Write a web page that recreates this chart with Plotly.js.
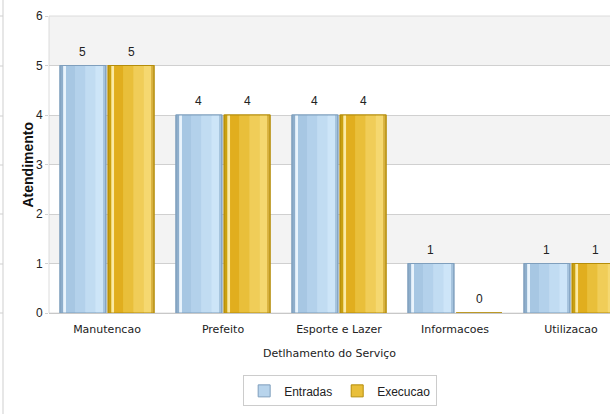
<!DOCTYPE html>
<html>
<head>
<meta charset="utf-8">
<script src="https://cdn.plot.ly/plotly-3.0.1.min.js"></script>
<style>
  html, body { margin: 0; padding: 0; background: #fff; }
  #chart { width: 610px; height: 414px; }
</style>
</head>
<body>
<div id="chart"></div>
<script>
// ---- data ----
const categories = ['Manutencao', 'Prefeito', 'Esporte e Lazer', 'Informacoes', 'Utilizacao'];
const entradas = [5, 4, 4, 1, 1];
const execucao = [5, 4, 4, 0, 1];
const seriesNames = ['Entradas', 'Execucao'];
const yTicks = [0, 1, 2, 3, 4, 5, 6];
const xTitle = 'Detlhamento do Serviço';
const yTitle = 'Atendimento';

// ---- styling ----
const BAR_W = 0.395;
const seriesStyle = [
  { offset: -0.405, base: '#b8d4ec', line: '#7f9fbd',
    stops: [[0, 0.07, '#8eaecb'], [0.07, 0.06, '#eaf4fc'], [0.13, 0.2, '#a7c7e3'], [0.33, 0.22, '#b3d1eb'],
            [0.55, 0.22, '#c1dcf2'], [0.77, 0.17, '#cde5f8'], [0.94, 0.06, '#a5c3dd']] },
  { offset: 0.01, base: '#e9bf3a', line: '#b58d0a',
    stops: [[0, 0.07, '#c9a010'], [0.07, 0.06, '#fbeaa5'], [0.13, 0.2, '#e1ae1e'], [0.33, 0.22, '#e9bf3a'],
            [0.55, 0.22, '#f0cd58'], [0.77, 0.17, '#f5d870'], [0.94, 0.06, '#d6b040']] }
];
const seriesValues = [entradas, execucao];

const traces = [];
const annotations = [];
seriesValues.forEach((vals, s) => {
  const st = seriesStyle[s];
  traces.push({
    type: 'bar', x: categories, y: vals, name: seriesNames[s],
    offset: st.offset, width: BAR_W,
    marker: { color: st.base, line: { color: st.line, width: 1 } },
    showlegend: true, hoverinfo: 'x+y+name'
  });
  st.stops.forEach(([f, w, c]) => {
    traces.push({
      type: 'bar', x: categories, y: vals, name: seriesNames[s],
      offset: st.offset + f * BAR_W, width: w * BAR_W,
      marker: { color: c, line: { width: 0 } },
      showlegend: false, hoverinfo: 'skip'
    });
  });
  traces.push({
    type: 'bar', x: categories, y: vals, name: seriesNames[s],
    offset: st.offset, width: BAR_W,
    marker: { color: 'rgba(0,0,0,0)', line: { color: st.line, width: 1.2 } },
    showlegend: false, hoverinfo: 'skip'
  });
  vals.forEach((v, i) => {
    annotations.push({
      x: i + st.offset + BAR_W / 2, y: v, xref: 'x', yref: 'y',
      text: String(v), showarrow: false, yanchor: 'bottom', yshift: 5,
      font: { family: 'Liberation Sans, Arial, sans-serif', size: 12, color: '#222' }
    });
  });
});

const PW = 561, PH = 297;
// y axis title
annotations.push({
  xref: 'paper', yref: 'paper', x: (27 - 49) / PW, y: 0.5, xanchor: 'center', yanchor: 'middle',
  text: '<b>' + yTitle + '</b>', textangle: -90, showarrow: false,
  font: { family: 'Liberation Sans, Arial, sans-serif', size: 14, color: '#111' }
});

// alternating background bands
const shapes = [];
[[1, 2], [3, 4], [5, 6]].forEach(([a, b]) => {
  shapes.push({ type: 'rect', xref: 'paper', yref: 'y', x0: 0, x1: 1, y0: a, y1: b,
    fillcolor: '#f3f3f3', line: { width: 0 }, layer: 'below' });
});
// plot frame
shapes.push({ type: 'rect', xref: 'paper', yref: 'paper', x0: 0, x1: 1.05, y0: 0, y1: 1,
  fillcolor: 'rgba(0,0,0,0)', line: { color: '#dcdcdc', width: 1 }, layer: 'below' });
// neighbouring panel edge at far left
shapes.push({ type: 'line', xref: 'paper', yref: 'paper',
  x0: (3 - 49) / PW, x1: (3 - 49) / PW, y0: -0.5, y1: 1.1, line: { color: '#cfcfcf', width: 1 } });
[16, 66, 116, 165, 214, 264, 313].forEach(py => {
  shapes.push({ type: 'line', xref: 'paper', yref: 'paper',
    x0: -49 / PW, x1: (3 - 49) / PW, y0: (313 - py) / PH, y1: (313 - py) / PH,
    line: { color: '#cfcfcf', width: 1 } });
});

const layout = {
  width: 610, height: 414,
  margin: { l: 49, r: 0, t: 16, b: 101, pad: 0 },
  paper_bgcolor: '#ffffff', plot_bgcolor: '#ffffff',
  barmode: 'overlay',
  showlegend: true,
  font: { family: 'Liberation Sans, Arial, sans-serif', color: '#222' },
  xaxis: {
    type: 'category', range: [-0.5, 4.336],
    showgrid: false, zeroline: false, showline: false,
    ticks: 'outside', ticklen: 6, tickcolor: 'rgba(0,0,0,0)',
    tickfont: { family: 'DejaVu Sans, Verdana, sans-serif', size: 11, color: '#222' },
    title: { text: xTitle, standoff: 14,
      font: { family: 'DejaVu Sans, Verdana, sans-serif', size: 11, color: '#222' } }
  },
  yaxis: {
    range: [0, 6], tickvals: yTicks, ticktext: yTicks.map(String),
    showgrid: true, gridcolor: '#d0d0d0', gridwidth: 1,
    zeroline: true, zerolinecolor: '#c8c8c8',
    ticks: 'outside', ticklen: 3, tickcolor: '#d0d0d0',
    tickfont: { family: 'Liberation Sans, Arial, sans-serif', size: 12, color: '#222' }
  },
  legend: {
    orientation: 'h', x: 0.519, xanchor: 'center', y: -0.21, yanchor: 'top',
    bgcolor: '#ffffff', bordercolor: '#cccccc', borderwidth: 1,
    font: { family: 'Liberation Sans, Arial, sans-serif', size: 12, color: '#222' },
    itemwidth: 30
  },
  shapes: shapes,
  annotations: annotations
};

Plotly.newPlot('chart', traces, layout, { displayModeBar: false, staticPlot: true });
</script>
</body>
</html>
